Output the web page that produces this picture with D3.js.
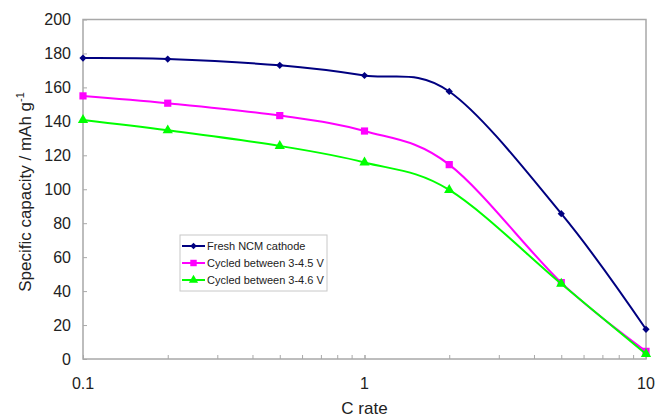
<!DOCTYPE html>
<html>
<head>
<meta charset="utf-8">
<script src="https://cdn.jsdelivr.net/npm/d3@7"></script>
<style>
  html, body { margin: 0; padding: 0; background: #fff; }
  svg { display: block; font-family: "Liberation Sans", Arial, sans-serif; }
</style>
</head>
<body>
<svg id="chart" width="658" height="420"></svg>
<script>
// C rates (log scale) and discharge capacities in mAh/g
const cRates = [0.1, 0.2, 0.5, 1, 2, 5, 10];
const freshNCM = [177.3, 176.7, 173, 167, 157.6, 85.6, 17.5];
const cycled45 = [155, 150.7, 143.4, 134.3, 114.5, 45, 4.5];
const cycled46 = [140.8, 134.7, 125.5, 115.8, 99.6, 44.3, 3];
const yTicks = [0, 20, 40, 60, 80, 100, 120, 140, 160, 180, 200];
const xTickLabels = [0.1, 1, 10];
const seriesNames = ["Fresh NCM cathode", "Cycled between 3-4.5 V", "Cycled between 3-4.6 V"];

const svg = d3.select("#chart");
const plotLeft = 83, plotRight = 646, plotTop = 19.5, plotBottom = 359;

const x = d3.scaleLog().domain([0.1, 10]).range([plotLeft, plotRight]);
const y = d3.scaleLinear().domain([0, 200]).range([plotBottom, plotTop]);

// plot frame
svg.append("rect")
  .attr("x", plotLeft).attr("y", plotTop)
  .attr("width", plotRight - plotLeft).attr("height", plotBottom - plotTop)
  .attr("fill", "none").attr("stroke", "#a8a8a8").attr("stroke-width", 1.5);

// y axis: inward ticks, labels on the left
const yAxis = d3.axisRight(y).tickValues(yTicks).tickSize(4).tickFormat("");
svg.append("g").attr("transform", `translate(${plotLeft},0)`).call(yAxis)
  .call(g => g.select(".domain").remove())
  .call(g => g.selectAll("line").attr("stroke", "#a8a8a8"));
svg.append("g").selectAll("text").data(yTicks).join("text")
  .attr("x", 71).attr("y", d => y(d)).attr("dy", "0.36em")
  .attr("text-anchor", "end").attr("font-size", 16).attr("fill", "#222")
  .text(d => d);

// x axis: inward minor and major ticks
const xMinor = [];
for (let dec of [0.1, 1]) for (let k = 1; k <= 10; k++) xMinor.push(+(dec * k).toFixed(4));
const xAxis = d3.axisTop(x).tickValues(xMinor).tickSize(4).tickFormat("");
svg.append("g").attr("transform", `translate(0,${plotBottom})`).call(xAxis)
  .call(g => g.select(".domain").remove())
  .call(g => g.selectAll("line").attr("stroke", "#a8a8a8"));
svg.append("g").selectAll("text").data(xTickLabels).join("text")
  .attr("x", d => x(d)).attr("y", 389)
  .attr("text-anchor", "middle").attr("font-size", 16).attr("fill", "#222")
  .text(d => d);

// axis titles
svg.append("text").attr("x", (plotLeft + plotRight) / 2).attr("y", 414)
  .attr("text-anchor", "middle").attr("font-size", 17).attr("fill", "#222")
  .text("C rate");
const yt = svg.append("text")
  .attr("transform", "translate(31,192) rotate(-90)")
  .attr("text-anchor", "middle").attr("font-size", 17).attr("fill", "#222");
yt.append("tspan").text("Specific capacity / mAh g");
yt.append("tspan").attr("font-size", 11).attr("dy", "-0.6em").text("-1");

// series; the diamond is a square turned 45 degrees
const series = [
  { name: seriesNames[0], values: freshNCM, color: "#000080", symbol: d3.symbolSquare, size: 26, rot: 45 },
  { name: seriesNames[1], values: cycled45, color: "#ff00ff", symbol: d3.symbolSquare, size: 52, rot: 0 },
  { name: seriesNames[2], values: cycled46, color: "#00ff00", symbol: d3.symbolTriangle, size: 46, rot: 0 }
];

const line = d3.line()
  .x(d => x(d[0])).y(d => y(d[1]))
  .curve(d3.curveCardinal.tension(0));

series.forEach(s => {
  const pts = cRates.map((c, i) => [c, s.values[i]]);
  svg.append("path").datum(pts)
    .attr("d", line).attr("fill", "none")
    .attr("stroke", s.color).attr("stroke-width", 2);
  svg.append("g").selectAll("path").data(pts).join("path")
    .attr("transform", d => `translate(${x(d[0])},${y(d[1])}) rotate(${s.rot})`)
    .attr("d", d3.symbol().type(s.symbol).size(s.size))
    .attr("fill", s.color);
});

// legend
const lg = svg.append("g").attr("transform", "translate(180,235)");
lg.append("rect").attr("width", 147).attr("height", 56)
  .attr("fill", "#fff").attr("stroke", "#c8c8c8").attr("stroke-width", 1);
series.forEach((s, i) => {
  const ry = 11 + i * 17;
  lg.append("line").attr("x1", 2).attr("x2", 25).attr("y1", ry).attr("y2", ry)
    .attr("stroke", s.color).attr("stroke-width", 2);
  lg.append("path").attr("transform", `translate(13.5,${ry}) rotate(${s.rot})`)
    .attr("d", d3.symbol().type(s.symbol).size(s.size * 0.8))
    .attr("fill", s.color);
  lg.append("text").attr("x", 27).attr("y", ry).attr("dy", "0.35em")
    .attr("font-size", 11).attr("fill", "#222").text(s.name);
});
</script>
</body>
</html>
